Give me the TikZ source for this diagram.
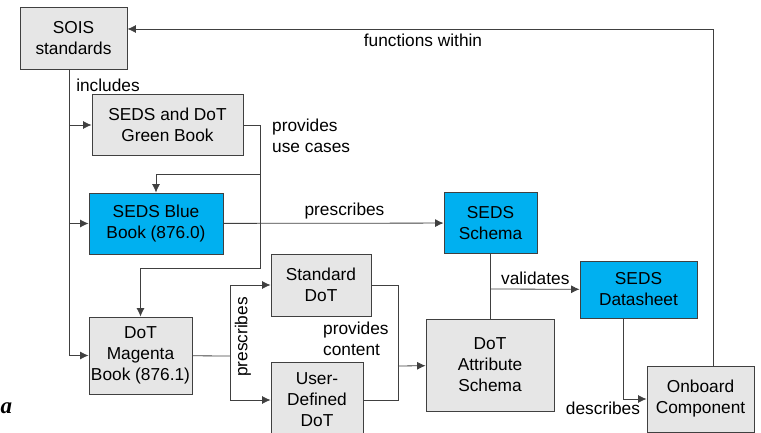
\documentclass[tikz,border=0pt]{standalone}
\usepackage{fontspec}
\setmainfont{Liberation Sans}
\newfontfamily\strayfont{Liberation Serif}
\usepackage{tikz}
\usetikzlibrary{arrows.meta,positioning,calc}
\usepackage{xcolor}
\definecolor{boxgray}{RGB}{230,230,230}
\definecolor{sedsblue}{RGB}{0,176,240}
\definecolor{edgegray}{RGB}{64,64,64}

\begin{document}
\begin{tikzpicture}[x=1pt,y=-1pt,
  font=\fontsize{17.3}{21}\selectfont,
  box/.style={rectangle,draw=edgegray,line width=0.9pt,fill=boxgray,align=center,inner sep=2pt},
  bluebox/.style={box,fill=sedsblue},
  lbl/.style={inner sep=1pt,align=left},
  wire/.style={draw=edgegray,line width=0.8pt},
  arr/.style={wire,-{Latex[length=8.5pt,width=8pt]}}
]
\useasboundingbox (0,0) rectangle (761,433);

% boxes
\node[box,minimum width=107pt,minimum height=62pt]      (sois)      at (73.5,38)  {SOIS\\standards};
\node[box,minimum width=151pt,minimum height=61pt]      (green)     at (167.5,125) {SEDS and DoT\\Green Book};
\node[bluebox,minimum width=134pt,minimum height=61pt]  (blue)      at (156,223.5) {SEDS Blue\\Book (876.0)};
\node[bluebox,minimum width=93pt,minimum height=61pt]   (schema)    at (490.5,223) {SEDS\\Schema};
\node[box,minimum width=100pt,minimum height=62pt]      (stddot)    at (321,285)  {Standard\\DoT};
\node[box,minimum width=99pt,minimum height=77pt]       (magenta)   at (140.5,355.5) {DoT\\Magenta\\Book (876.1)};
\node[box,minimum width=92pt,minimum height=76pt]       (userdot)   at (317,400)  {User-\\Defined\\DoT};
\node[box,minimum width=128pt,minimum height=92pt]      (attr)      at (490,365)  {DoT\\Attribute\\Schema};
\node[bluebox,minimum width=117pt,minimum height=57pt]  (datasheet) at (638.5,289.5) {SEDS\\Datasheet};
\node[box,minimum width=107pt,minimum height=66pt]      (onboard)   at (700.5,399) {Onboard\\Component};

% junction points
\coordinate (trunk) at ([xshift=-4.5pt]sois.south);
\coordinate (gtap)  at (260,174);
\coordinate (gend)  at (260,268);
\coordinate (mfork) at (230,356);
\coordinate (cjoin) at (398,366);
\coordinate (vtap)  at (491,289);

% SOIS includes
\draw[arr] (trunk) |- (green);
\draw[arr] (trunk) |- (blue);
\draw[arr] (trunk) |- (magenta);
\node[lbl] (lincl) at (108,85) {includes};

% green book use cases
\draw[arr] (green.east) -| (gend) -| (magenta);
\draw[arr] (gtap) -| (blue);
\node[lbl,anchor=west] (luse) at (271,136) {provides\\use cases};

% blue book -> schema
\draw[arr] (blue) -- node[lbl,above=3pt,pos=0.55] (lpre) {prescribes} (schema);

% magenta book -> DoT
\draw[wire] (magenta) -- (mfork);
\draw[arr] (mfork) |- (stddot);
\draw[arr] (mfork) |- (userdot);
\node[lbl,rotate=90] (lpre2) at (243,337) {prescribes};

% DoT -> attribute schema
\draw[wire] (stddot) -| (cjoin);
\draw[wire] (userdot) -| (cjoin);
\draw[arr] (cjoin) -- (attr);
\node[lbl,anchor=west] (lcont) at (322,339) {provides\\content};

% schema validates datasheet
\draw[wire] (schema.south) -- (schema.south |- attr.north);
\draw[arr] (vtap) -- node[lbl,above=3pt] (lval) {validates} (datasheet);

% datasheet describes component
\draw[arr] ([xshift=-15.5pt]datasheet.south) |- (onboard);
\node[lbl] (ldesc) at (603,408) {describes};

% component functions within SOIS
\draw[arr] ([xshift=13pt]onboard.north) |- ([yshift=9pt]sois.east);
\node[lbl] (lfunc) at (423,40) {functions within};

\node[font=\strayfont\bfseries\itshape\fontsize{23}{23}\selectfont,anchor=base west,inner sep=0pt] (stray) at (0.5,413) {a};
\end{tikzpicture}
\end{document}
